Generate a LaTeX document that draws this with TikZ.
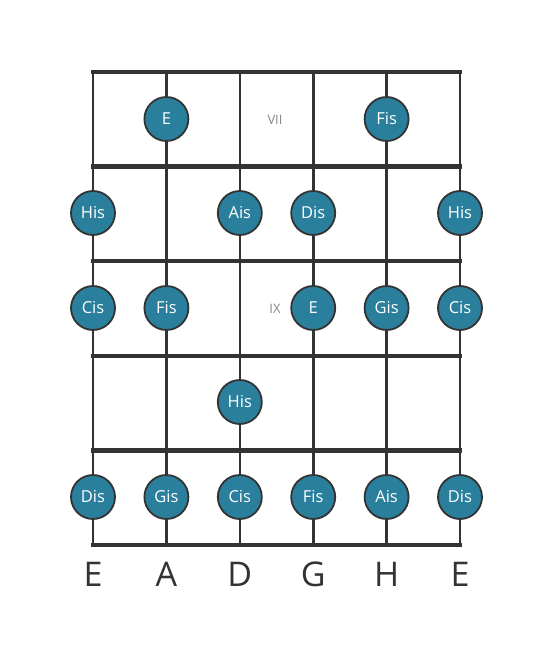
\documentclass[tikz,border=0pt]{standalone}
\usepackage{fontspec}
\setmainfont{Open Sans}
\definecolor{linec}{HTML}{333333}
\definecolor{notec}{HTML}{2A7F9C}
\definecolor{romanc}{HTML}{888888}
\begin{document}
\begin{tikzpicture}[x=1pt,y=-1pt,
  fret/.style={draw=linec,line width=4.5pt},
  strg/.style={draw=linec,line width=2.6pt},
  note/.style={circle,fill=notec,draw=linec,line width=1.8pt,minimum size=44pt,inner sep=0pt,text=white,font=\fontsize{16.5}{16.5}\selectfont},
  roman/.style={text=romanc,font=\fontsize{13}{13}\selectfont},
  slabel/.style={text=linec,font=\fontsize{34}{34}\selectfont}]
\useasboundingbox (0,0) rectangle (553,656);
\foreach \i/\x in {1/93,2/166.4,3/239.8,4/313.2,5/386.6,6/460}{
  \coordinate (t\i) at (\x,72);
  \coordinate (b\i) at (\x,545);
}
\foreach \i in {1,...,6}{ \draw[strg] (t\i) -- (b\i); }
\foreach \j/\y in {0/72,1/166.6,2/261.2,3/355.8,4/450.4,5/545}{
  \coordinate (fl\j) at (91,\y);
  \coordinate (fr\j) at (462,\y);
  \draw[fret] (fl\j) -- (fr\j);
}
% row 1
\node[note] (n12) at (166.4,119) {E};
\node[note] (n15) at (386.6,119) {Fis};
\node[roman] (vii) at (275,120) {VII};
% row 2
\node[note] (n21) at (93,213) {His};
\node[note] (n23) at (239.8,213) {Ais};
\node[note] (n24) at (313.2,213) {Dis};
\node[note] (n26) at (460,213) {His};
% row 3
\node[note] (n31) at (93,308) {Cis};
\node[note] (n32) at (166.4,308) {Fis};
\node[roman] (ix) at (275,309) {IX};
\node[note] (n34) at (313.2,308) {E};
\node[note] (n35) at (386.6,308) {Gis};
\node[note] (n36) at (460,308) {Cis};
% row 4
\node[note] (n43) at (239.8,402) {His};
% row 5
\node[note] (n51) at (93,497) {Dis};
\node[note] (n52) at (166.4,497) {Gis};
\node[note] (n53) at (239.8,497) {Cis};
\node[note] (n54) at (313.2,497) {Fis};
\node[note] (n55) at (386.6,497) {Ais};
\node[note] (n56) at (460,497) {Dis};
% string names
\foreach \i/\x/\s in {1/93/E,2/166.4/A,3/239.8/D,4/313.2/G,5/386.6/H,6/460/E}{
  \node[slabel] (s\i) at (\x,574) {\s};
}
\end{tikzpicture}
\end{document}
